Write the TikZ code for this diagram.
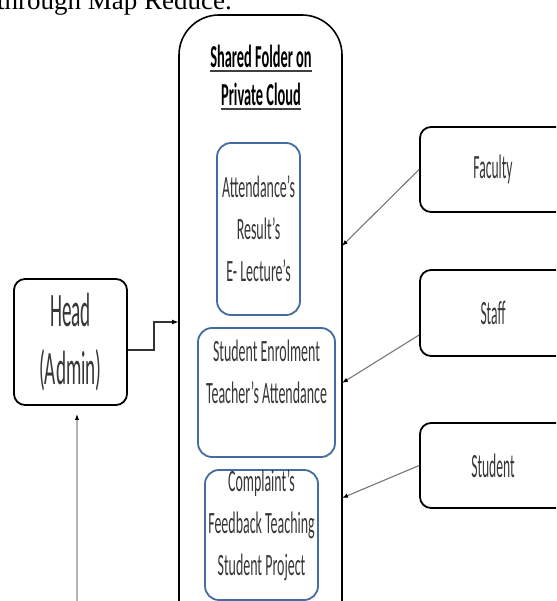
\documentclass[tikz,border=0pt]{standalone}
\usepackage{fontspec}
\setmainfont{Liberation Serif}
\newfontfamily\narrowfont[FakeStretch=0.45]{Carlito}
\newfontfamily\userfont[FakeStretch=0.4]{Carlito}
\usetikzlibrary{arrows.meta}
\definecolor{boxblue}{RGB}{68,108,162}
\definecolor{textgray}{RGB}{55,55,55}
\definecolor{linegray}{RGB}{118,118,118}
\definecolor{palegray}{RGB}{180,180,180}
\begin{document}
\begin{tikzpicture}[x=1pt,y=-1pt,
    sharedbox/.style={draw=black, line width=1.6pt, rounded corners=40pt, inner sep=0pt},
    titletext/.style={inner sep=0pt, font=\narrowfont\bfseries\fontsize{32}{38}\selectfont},
    uline/.style={draw=black!75, line width=2.6pt},
    storebox/.style={draw=boxblue, line width=1.8pt, rounded corners=14pt, inner sep=0pt, align=center, text=textgray, font=\narrowfont\fontsize{31}{42}\selectfont},
    storetext/.style={inner sep=0pt, align=center, text=textgray, font=\narrowfont\fontsize{31}{42}\selectfont},
    userbox/.style={draw=black, line width=1.8pt, rounded corners=11pt, inner sep=0pt, align=center, text=textgray, font=\userfont\fontsize{34}{40}\selectfont},
    userarrow/.style={draw=linegray, line width=1.1pt, -{Latex[length=6pt,width=4.5pt,color=black]}},
    headarrow/.style={draw=black!80, line width=1.4pt, -{Latex[length=7pt,width=5pt,color=black]}},
    lowarrow/.style={draw=palegray, line width=1.4pt, -{Latex[length=6pt,width=4.5pt,color=black]}}]
  % Keep the page to the visible part of the figure.
  \useasboundingbox (0,0) rectangle (556,601);
  \clip (0,0) rectangle (556,601);
  % Caption line cut off at the top.
  \node[inner sep=0pt, anchor=base west, font=\fontsize{27}{30}\selectfont] (caption) at (-3,10) {through Map Reduce.};
  % Shared folder on the private cloud.
  \node[sharedbox, minimum width=163, minimum height=625] (shared) at (260.5,327.5) {};
  \node[titletext] (title1) at (261,56) {Shared Folder on};
  \node[titletext] (title2) at (261,94) {Private Cloud};
  \draw[uline] ([yshift=-4pt]title1.base west) -- ([yshift=-4pt]title1.base east);
  \draw[uline] ([yshift=-4pt]title2.base west) -- ([yshift=-4pt]title2.base east);
  % The three stores inside the folder.
  \node[storebox, minimum width=83, minimum height=172] (store1) at (258.5,229) {Attendance’s\\Result’s\\E- Lecture’s};
  \node[storebox, minimum width=137, minimum height=129] (store2) at (266.5,392.5) {Student Enrolment\\Teacher’s Attendance\\\mbox{}};
  \node[storebox, minimum width=113, minimum height=130] (store3) at (261.5,535) {};
  \node[storetext] (store3text) at (261.5,525) {Complaint’s\\Feedback Teaching\\Student Project};
  % Users of the folder.
  \node[userbox, minimum width=146, minimum height=85] (faculty) at (493,169.5) {Faculty};
  \node[userbox, minimum width=146, minimum height=86] (staff) at (493,313) {Staff};
  \node[userbox, minimum width=146, minimum height=85] (student) at (493,465.5) {Student};
  \node[userbox, minimum width=113, minimum height=126, font=\userfont\fontsize{48}{58}\selectfont] (head) at (70.5,342) {Head\\(Admin)};
  % Where the connectors meet the folder.
  \coordinate (facultyIn) at (342,246);
  \coordinate (staffIn) at (342,383);
  \coordinate (studentIn) at (342,498);
  \coordinate (headIn) at (179,322);
  \coordinate (below) at (77,601);
  % Connectors.
  \draw[userarrow] (faculty.west) -- (facultyIn);
  \draw[userarrow] ([yshift=-22pt]staff.west) -- (staffIn);
  \draw[userarrow] (student.west) -- (studentIn);
  \draw[headarrow] ([yshift=-8pt]head.east) -- ++(26,0) |- (headIn);
  \draw[lowarrow, shorten >=8pt] (below) -- (below |- head.south);
\end{tikzpicture}
\end{document}
